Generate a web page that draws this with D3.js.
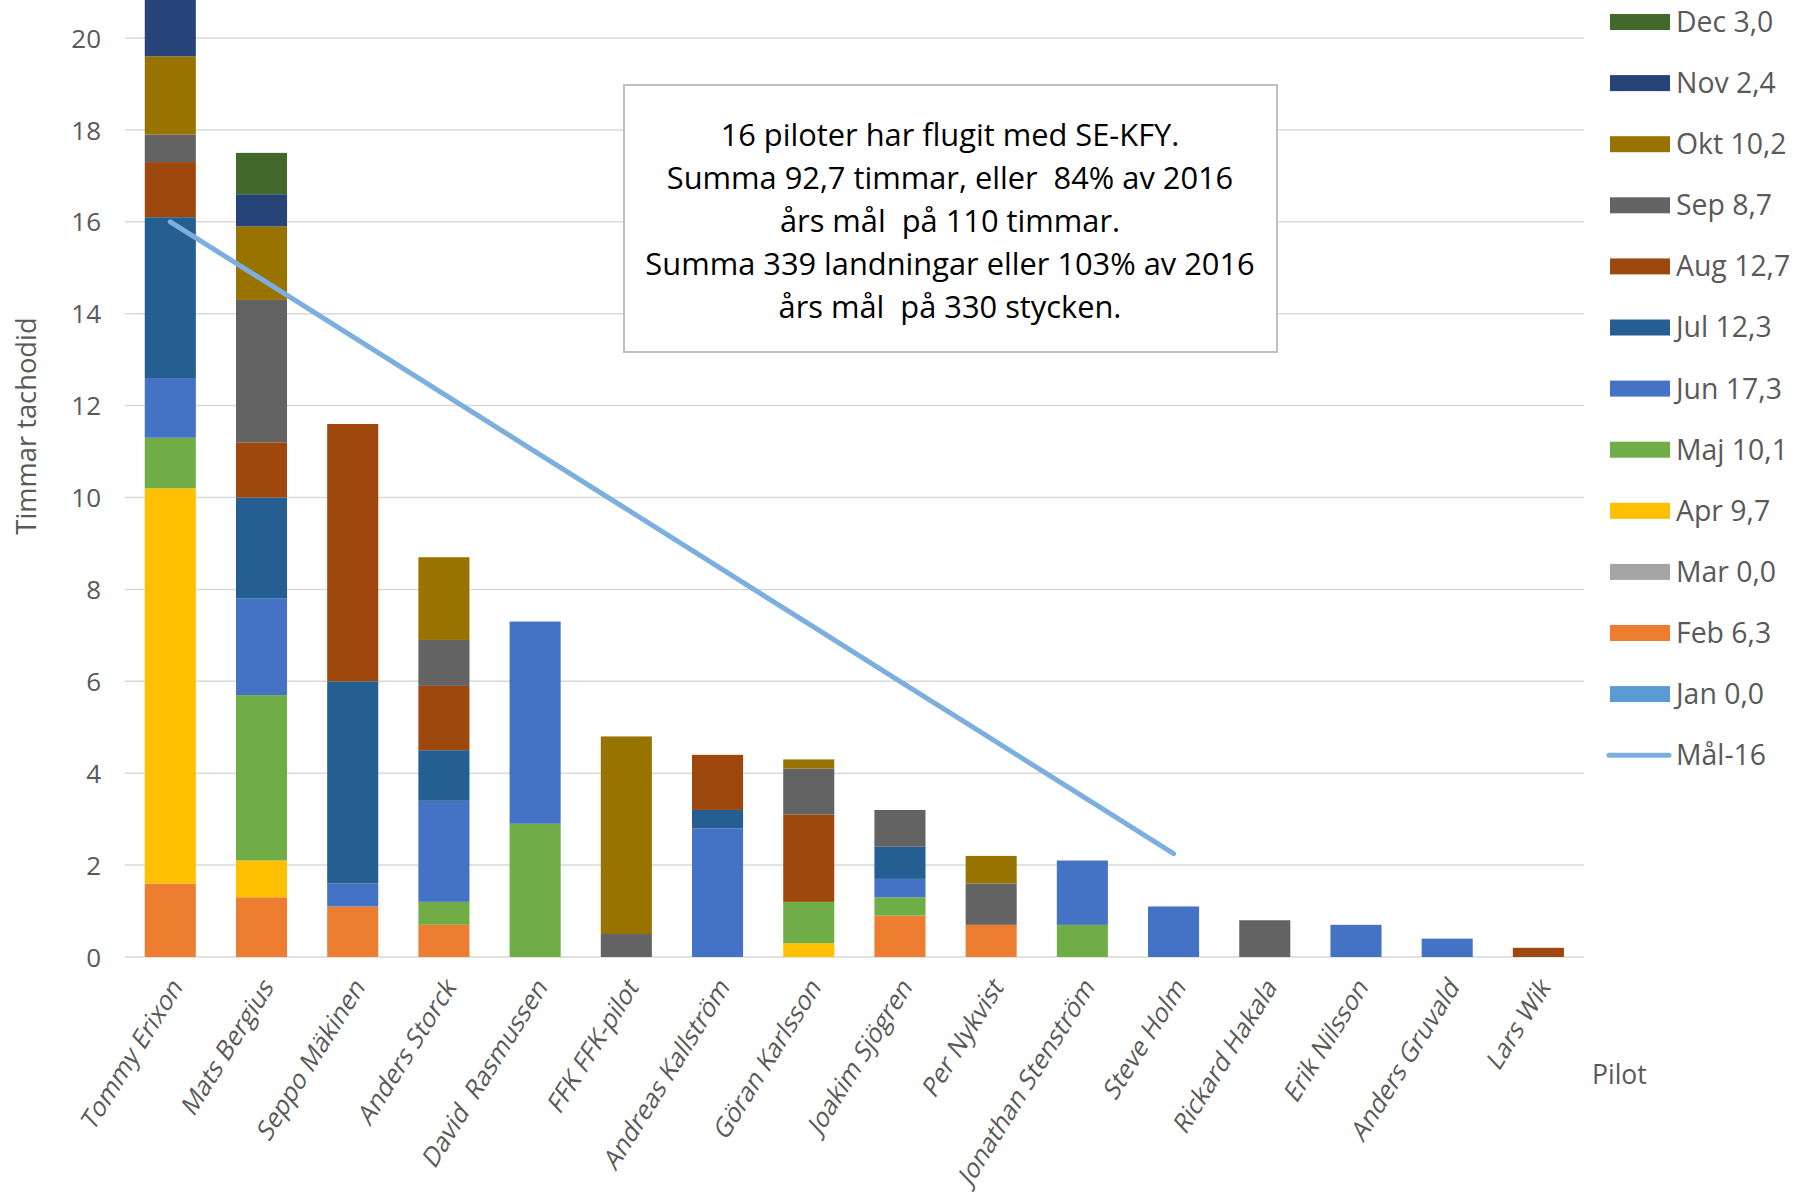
<!DOCTYPE html>
<html><head><meta charset="utf-8">
<script src="https://cdn.jsdelivr.net/npm/d3@7"></script>
<style>
body{margin:0;background:#fff}
text{font-family:"Open Sans",sans-serif}
</style>
</head><body>
<svg id="chart" width="1798" height="1193"></svg>
<script>
const categories = ["Tommy Erixon","Mats Bergius","Seppo Mäkinen","Anders Storck","David  Rasmussen","FFK FFK-pilot","Andreas Kallström","Göran Karlsson","Joakim Sjögren","Per Nykvist","Jonathan Stenström","Steve Holm","Rickard Hakala","Erik Nilsson","Anders Gruvald","Lars Wik"];
const months = ["Jan","Feb","Mar","Apr","Maj","Jun","Jul","Aug","Sep","Okt","Nov","Dec"];
const jan = [0,0,0,0,0,0,0,0,0,0,0,0,0,0,0,0];
const feb = [1.6,1.3,1.1,0.7,0,0,0,0,0.9,0.7,0,0,0,0,0,0];
const mar = [0,0,0,0,0,0,0,0,0,0,0,0,0,0,0,0];
const apr = [8.6,0.8,0,0,0,0,0,0.3,0,0,0,0,0,0,0,0];
const maj = [1.1,3.6,0,0.5,2.9,0,0,0.9,0.4,0,0.7,0,0,0,0,0];
const jun = [1.3,2.1,0.5,2.2,4.4,0,2.8,0,0.4,0,1.4,1.1,0,0.7,0.4,0];
const jul = [3.5,2.2,4.4,1.1,0,0,0.4,0,0.7,0,0,0,0,0,0,0];
const aug = [1.2,1.2,5.6,1.4,0,0,1.2,1.9,0,0,0,0,0,0,0,0.2];
const sep = [0.6,3.1,0,1.0,0,0.5,0,1.0,0.8,0.9,0,0,0.8,0,0,0];
const okt = [1.7,1.6,0,1.8,0,4.3,0,0.2,0,0.6,0,0,0,0,0,0];
const nov = [1.7,0.7,0,0,0,0,0,0,0,0,0,0,0,0,0,0];
const dec = [2.1,0.9,0,0,0,0,0,0,0,0,0,0,0,0,0,0];
const goalName = "Mål-16";
const goalValues = [16.0,14.75,13.5,12.25,11.0,9.75,8.5,7.25,6.0,4.75,3.5,2.25];
const yTicks = [0,2,4,6,8,10,12,14,16,18,20];
const yTitle = "Timmar tachodid";
const xTitle = "Pilot";
const boxLines = ["16 piloter har flugit med SE-KFY.","Summa 92,7 timmar, eller  84% av 2016","års mål  på 110 timmar.","Summa 339 landningar eller 103% av 2016","års mål  på 330 stycken."];
const monthColors = ["#5B9BD5","#ED7D31","#A5A5A5","#FFC000","#70AD47","#4472C4","#255E91","#9E480E","#636363","#997300","#264478","#43682B"];
const goalColor = "#7CAFDD";

const series = [jan,feb,mar,apr,maj,jun,jul,aug,sep,okt,nov,dec];
const table = categories.map((c,i)=>{const o={pilot:c}; months.forEach((m,k)=>o[m]=series[k][i]); return o;});
const stacked = d3.stack().keys(months)(table);

const svg = d3.select("#chart");
const x = d3.scaleBand().domain(categories).range([124.7,1584]).paddingInner(0.44).paddingOuter(0.22);
const y = d3.scaleLinear().domain([0,20]).range([957,38]);
const color = d3.scaleOrdinal().domain(months).range(monthColors);

// gridlines
svg.append("g").selectAll("line").data(yTicks).join("line")
  .attr("x1",124.7).attr("x2",1584)
  .attr("y1",d=>y(d)).attr("y2",d=>y(d))
  .attr("stroke","#D9D9D9").attr("stroke-width",1.5);

// y axis labels
const yAxis = d3.axisLeft(y).tickValues(yTicks).tickSize(0).tickPadding(0).tickFormat(d3.format("d"));
const ya = svg.append("g").attr("transform","translate(101,0)").call(yAxis);
ya.select(".domain").remove();
ya.selectAll("text").attr("font-size",26).attr("fill","#595959").attr("font-family","Open Sans").attr("dy","0.35em");

// bars
svg.append("g").selectAll("g").data(stacked).join("g")
  .attr("fill",d=>color(d.key))
  .selectAll("rect").data(d=>d).join("rect")
  .attr("x",d=>x(d.data.pilot)).attr("width",x.bandwidth())
  .attr("y",d=>y(d[1])).attr("height",d=>Math.max(0,y(d[0])-y(d[1])));

// goal line
const line = d3.line().x((d,i)=>x(categories[i])+x.bandwidth()/2).y(d=>y(d));
svg.append("path").datum(goalValues).attr("d",line)
  .attr("fill","none").attr("stroke",goalColor).attr("stroke-width",5).attr("stroke-linecap","round");

// category labels
const xa = svg.append("g");
xa.selectAll("text").data(categories).join("text")
  .attr("transform",d=>`translate(${x(d)+x.bandwidth()/2+13},${988}) rotate(-58) skewX(-14)`)
  .attr("text-anchor","end").attr("font-size",25.3).attr("fill","#595959")
  .style("white-space","pre").text(d=>d);

// axis titles
svg.append("text").attr("transform","translate(36,426) rotate(-90)").attr("text-anchor","middle")
  .attr("font-size",27.3).attr("fill","#595959").text(yTitle);
svg.append("text").attr("x",1592).attr("y",1084).attr("font-size",26.5).attr("fill","#595959").text(xTitle);

// text box
svg.append("rect").attr("x",624).attr("y",85).attr("width",653).attr("height",267)
  .attr("fill","#fff").attr("stroke","#BFBFBF").attr("stroke-width",2);
svg.append("g").selectAll("text").data(boxLines).join("text")
  .attr("x",950).attr("y",(d,i)=>135+i*43).attr("dy","0.35em").attr("text-anchor","middle")
  .attr("font-size",30.8).attr("fill","#000").style("white-space","pre").text(d=>d);

// legend
const fmt = v=>d3.format(".1f")(v).replace(".",",");
const legendItems = months.slice().reverse().map(m=>({name:m, label:m+" "+fmt(d3.sum(series[months.indexOf(m)])), type:"bar"}));
legendItems.push({name:goalName,label:goalName,type:"line"});
const lg = svg.append("g").selectAll("g").data(legendItems).join("g")
  .attr("transform",(d,i)=>`translate(0,${22+i*61.1})`);
lg.filter(d=>d.type==="bar").append("rect").attr("x",1610).attr("y",-8).attr("width",60).attr("height",16)
  .attr("fill",d=>color(d.name));
lg.filter(d=>d.type==="line").append("line").attr("x1",1609).attr("x2",1669).attr("y1",0).attr("y2",0)
  .attr("stroke",goalColor).attr("stroke-width",5).attr("stroke-linecap","round");
lg.append("text").attr("x",1676).attr("dy","0.35em").attr("font-size",28.4).attr("fill","#595959").text(d=>d.label);
</script>
</body></html>
